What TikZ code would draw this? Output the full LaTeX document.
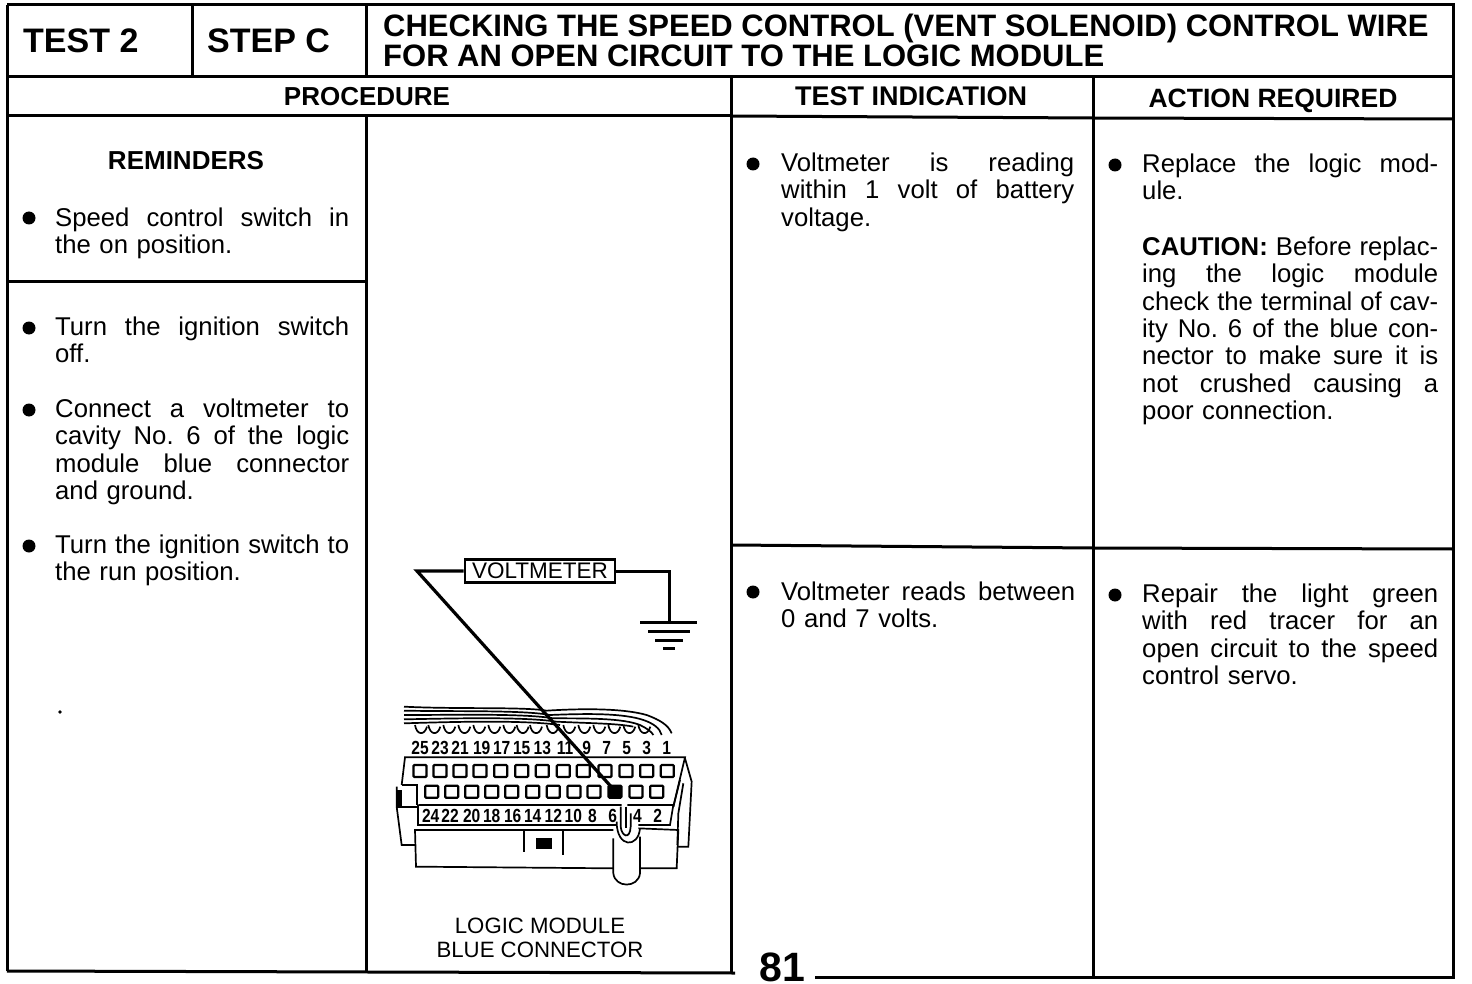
\documentclass[tikz,border=0pt]{standalone}
\usepackage{fontspec}
\setmainfont{Liberation Sans}
\newcommand{\jl}[1]{\leavevmode\hbox to \blockwd{\spaceskip=.278em plus 1fil minus .14em\xspaceskip=\spaceskip #1}}
\tikzset{
  rule/.style={line width=3pt},
  thinwire/.style={line width=1.7pt},
  probe/.style={line width=3.2pt},
  bodytext/.style={anchor=north west,inner sep=0pt,text width=#1,execute at begin node={\def\blockwd{#1}},font=\fontsize{25.7}{27.4}\selectfont},
  headtext/.style={anchor=base,inner sep=0pt,font=\fontsize{27}{27}\bfseries\selectfont},
  headsmall/.style={anchor=base,inner sep=0pt,font=\fontsize{26}{26}\bfseries\selectfont},
  bigtext/.style={anchor=base west,inner sep=0pt,font=\fontsize{34}{34}\bfseries\selectfont},
  titletext/.style={anchor=base west,inner sep=0pt,font=\fontsize{31}{31}\bfseries\selectfont},
  pinnum/.style={inner sep=0pt,xscale=.82,font=\fontsize{19}{19}\bfseries\selectfont},
  captext/.style={anchor=base,inner sep=0pt,font=\fontsize{22.2}{22.2}\selectfont},
  bullet/.style={circle,fill,inner sep=0pt,minimum size=13pt},
  pinhole/.style={draw,line width=2.2pt,rounded corners=1pt,inner sep=0pt,minimum width=13pt,minimum height=12pt},
}
\begin{document}
\begin{tikzpicture}[x=1pt,y=-1pt]
\useasboundingbox (0,0) rectangle (1472,984);

% table
\draw[rule] (7,5) -- (1453,5) -- (1453,977) -- (815,977);
\draw[rule] (735,973) -- (7,971) -- cycle;
\draw[rule] (7,5) -- (7,971);
\draw[rule] (7,77) -- (1453,77);
\draw[rule] (7,116) -- (731,116);
\draw[rule] (731,116) -- (1093,118) -- (1453,119);
\draw[rule] (192,5) -- (192,77);
\draw[rule] (366,5) -- (366,77);
\draw[rule] (366,116) -- (366,971);
\draw[rule] (731,77) -- (731,973);
\draw[rule] (1093,77) -- (1093,977);
\draw[rule] (7,282) -- (366,282);
\draw[rule] (731,545) -- (1093,548) -- (1453,549);

% headers
\node[bigtext] (testno) at (23,53) {TEST 2};
\node[bigtext] (stepno) at (207,53) {STEP C};
\node[titletext] (title1) at (383,37) {CHECKING THE SPEED CONTROL (VENT SOLENOID) CONTROL WIRE};
\node[titletext] (title2) at (383,67) {FOR AN OPEN CIRCUIT TO THE LOGIC MODULE};
\node[headsmall] (hproc) at (367,106) {PROCEDURE};
\node[headtext] (hind) at (911,106) {TEST INDICATION};
\node[headsmall,font=\fontsize{26.5}{26.5}\bfseries\selectfont] (hact) at (1273,108) {ACTION REQUIRED};
\node[headsmall] (hrem) at (186,170) {REMINDERS};

% bullets
\foreach \x/\y in {29/218,29/328,29/410,29/546,753/164,1115/165,753/592,1115/595}
\node[bullet] at (\x,\y) {};
\fill (60,712) circle (1.8pt);

% left column
\node[bodytext=294pt] (remind) at (55,207) {\strut\jl{Speed control switch in}\\the on position.};
\node[bodytext=294pt] (stepa) at (55,316) {\strut\jl{Turn the ignition switch}\\off.};
\node[bodytext=294pt] (stepb) at (55,398) {\strut\jl{Connect a voltmeter to}\\\jl{cavity No. 6 of the logic}\\\jl{module blue connector}\\and ground.};
\node[bodytext=294pt] (stepc) at (55,534) {\strut\jl{Turn the ignition switch to}\\the run position.};

% test indication
\node[bodytext=293pt] (indgood) at (781,152) {\strut\jl{Voltmeter is reading}\\\jl{within 1 volt of battery}\\voltage.};
\node[bodytext=294pt] (indbad) at (781,581) {\strut\jl{Voltmeter reads between}\\0 and 7 volts.};

% action required
\node[bodytext=296pt] (actgood) at (1142,153) {\strut\jl{Replace the logic mod-}\\ule.};
\node[bodytext=296pt] (caution) at (1142,236) {\strut\jl{\textbf{CAUTION:} Before replac-}\\\jl{ing the logic module}\\\jl{check the terminal of cav-}\\\jl{ity No. 6 of the blue con-}\\\jl{nector to make sure it is}\\\jl{not crushed causing a}\\poor connection.};
\node[bodytext=296pt] (actbad) at (1142,583) {\strut\jl{Repair the light green}\\\jl{with red tracer for an}\\\jl{open circuit to the speed}\\control servo.};

% page number
\node[anchor=base,inner sep=0pt,font=\fontsize{41}{41}\bfseries\selectfont] (pageno) at (782,981) {81};

% meter and ground
\node[draw,line width=2.6pt,inner sep=0pt,minimum width=150pt,minimum height=23pt,font=\fontsize{22.5}{22.5}\selectfont] (meter) at (540,571) {VOLTMETER};
\coordinate (gnd) at (669,622);
\coordinate (pin6) at (615,791);
\coordinate (bend) at (417,571);
\draw[rule] (meter.east) -| (gnd);
\draw[rule] (640,622) -- (697,622);
\draw[rule] (648,631) -- (690,631);
\draw[rule] (655,640) -- (683,640);
\draw[rule] (663,648) -- (675,648);

% connector, in 3x units
\begin{scope}[shift={(390,550)},scale=1/3]
% wire bundle
\draw[thinwire] (42,470) .. controls (200,478) and (400,470) .. (470,482) .. controls (580,475) and (700,475) .. (770,495) .. controls (810,510) and (835,525) .. (845,550);
\draw[thinwire] (42,482) .. controls (200,485) and (400,480) .. (480,495) .. controls (600,490) and (700,490) .. (760,510) .. controls (790,520) and (810,535) .. (815,555);
\draw[thinwire] (42,495) .. controls (200,495) and (400,490) .. (490,505) .. controls (600,505) and (700,505) .. (750,525) .. controls (770,535) and (785,545) .. (790,555);
\draw[thinwire] (42,508) .. controls (200,505) and (400,500) .. (500,515) .. controls (600,520) and (680,520) .. (730,530);
\draw[thinwire] (42,520) .. controls (200,515) and (400,510) .. (510,525);
\foreach \x in {75,115,160,205,250,295,340,380,420,470,520,565,610,655,700,745}
\draw[thinwire] (\x,525) .. controls (\x+5,555) and (\x+28,558) .. (\x+36,530);

% pin numbers
\foreach \n/\x in {25/90,23/150,21/210,19/275,17/335,15/395,13/457,11/525,9/590,7/650,5/710,3/770,1/830}
\node[pinnum] (odd\n) at (\x,595) {\n};
\foreach \n/\x in {24/122,22/180,20/245,18/305,16/368,14/428,12/490,10/550,8/607,6/668,4/742,2/803}
\node[pinnum] (even\n) at (\x,797) {\n};

% pin holes
\foreach \x in {90,150,210,270,332,395,457,520,580,645,708,770,832}
\node[pinhole] at (\x,663) {};
\foreach \x in {125,185,245,305,365,428,490,552,612,738,800}
\node[pinhole] at (\x,725) {};
\node[pinhole,fill] (hole6) at (675,725) {};

% housing
\draw[thinwire] (35,705) -- (45,622) -- (885,622) -- (850,770);
\draw[thinwire] (35,705) -- (80,705) -- (80,765);
\draw[thinwire] (885,625) -- (905,695) -- (895,890) -- (862,890);
\draw[thinwire] (870,690) -- (850,770) (880,700) -- (865,790) -- (862,885);
\draw[thinwire] (20,710) -- (20,770) -- (35,885) -- (75,885);
\fill (20,720) rectangle (35,770);
\draw[thinwire] (20,770) -- (85,770);
% number strip
\draw[thinwire] (85,765) -- (695,765) (712,765) -- (850,765) -- (840,825) -- (745,825);
\draw[thinwire] (85,765) -- (85,825) -- (680,825);
% latch
\draw[thinwire] (692,770) -- (692,830) .. controls (695,860) and (720,870) .. (722,830) -- (722,790);
\draw[thinwire] (708,770) -- (708,835);
\draw[thinwire] (680,815) .. controls (680,895) and (745,895) .. (750,835);
\draw[thinwire] (670,865) -- (670,970) .. controls (675,1015) and (745,1015) .. (750,970) -- (750,860);
% lower body
\draw[thinwire] (670,840) -- (75,840) -- (78,950) -- (670,955);
\draw[thinwire] (750,955) -- (860,955) -- (865,840) -- (745,835);
\draw[thinwire] (403,840) -- (403,905) (520,840) -- (520,915);
\fill (437,865) rectangle (487,897);
\end{scope}

% probe lead
\draw[probe,line join=miter] (meter.west) -- (bend) -- (pin6);

% caption
\node[captext] (cap1) at (540,933) {LOGIC MODULE};
\node[captext] (cap2) at (540,957) {BLUE CONNECTOR};
\end{tikzpicture}
\end{document}
